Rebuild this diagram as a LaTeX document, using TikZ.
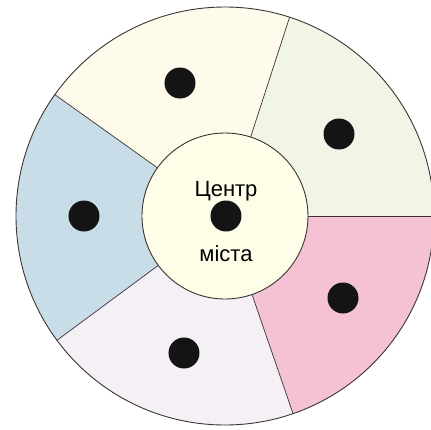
\documentclass[tikz,border=0pt]{standalone}
\usepackage{fontspec}
\setmainfont{Liberation Sans}
\definecolor{secA}{HTML}{FEFBEA}
\definecolor{secB}{HTML}{F1F5E6}
\definecolor{secC}{HTML}{F4C2D3}
\definecolor{secD}{HTML}{F4F0F6}
\definecolor{secE}{HTML}{C9DDE9}
\definecolor{core}{HTML}{FDFDE8}
\definecolor{edge}{HTML}{3A3434}
\tikzset{
  dot/.style={circle, fill=black!92, inner sep=0pt, minimum size=31pt},
  lbl/.style={font=\fontsize{22}{24}\selectfont, anchor=base, inner sep=0pt},
  border/.style={draw=edge, line width=0.9pt},
}
\begin{document}
\begin{tikzpicture}[x=1pt,y=1pt]
\useasboundingbox (-225,-213) rectangle (206,216);
\def\R{209}
\def\r{83}
% sectors
\fill[secA] (0,0) -- (72:\R) arc (72:144.5:\R) -- cycle;
\fill[secE] (0,0) -- (144.5:\R) arc (144.5:216.5:\R) -- cycle;
\fill[secD] (0,0) -- (216.5:\R) arc (216.5:289:\R) -- cycle;
\fill[secC] (0,0) -- (289:\R) arc (289:360:\R) -- cycle;
\fill[secB] (0,0) -- (0:\R) arc (0:72:\R) -- cycle;
% radial boundaries
\foreach \a in {72,144.5,216.5,289,0} {
  \draw[border, line width=0.7pt] (\a:\r) -- (\a:\R);
}
% outer circle
\draw[border] (0,0) circle (\R);
% centre
\node[circle, fill=core, border, minimum size=166pt, inner sep=0pt] (centre) at (0,0) {};
\node[lbl] (t1) at (1,20) {Центр};
\node[lbl] (t2) at (1,-45) {міста};
% dots
\node[dot] (d0) at (1,0) {};
\node[dot] (d1) at (-45,133) {};
\node[dot] (d2) at (114,82) {};
\node[dot] (d3) at (-141,0) {};
\node[dot] (d4) at (118,-82) {};
\node[dot] (d5) at (-41,-137) {};
\end{tikzpicture}
\end{document}
